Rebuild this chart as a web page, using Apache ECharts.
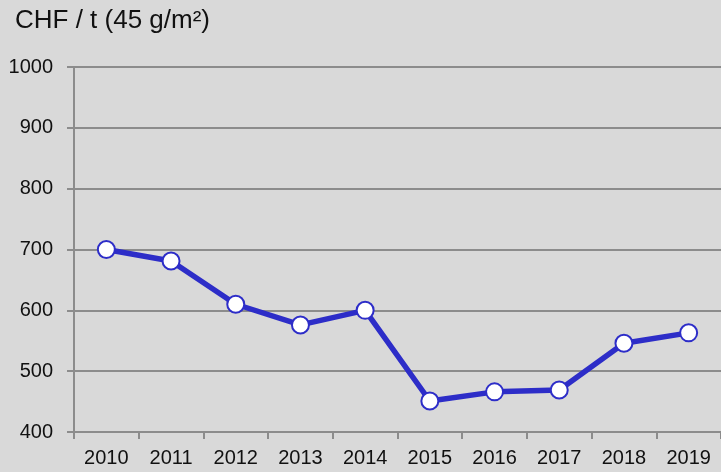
<!DOCTYPE html>
<html>
<head>
<meta charset="utf-8">
<script src="https://cdn.jsdelivr.net/npm/echarts@6/dist/echarts.min.js"></script>
<style>html,body{margin:0;padding:0;background:#d9d9d9;}#c{width:721px;height:472px;}</style>
</head>
<body>
<div id="c"></div>
<script>
const titleText = 'CHF / t (45 g/m²)';
const years = ['2010','2011','2012','2013','2014','2015','2016','2017','2018','2019'];
const prices = [700, 681, 610, 576, 600, 451, 466, 469, 546, 563];
const yMin = 400, yMax = 1000, yStep = 100;

const chart = echarts.init(document.getElementById('c'));
const gray = '#8c8c8c';
const fontFam = '"Liberation Sans", Arial, sans-serif';
chart.setOption({
  backgroundColor: '#d9d9d9',
  animation: false,
  title: {
    text: titleText, left: 10, top: 3,
    textStyle: { fontFamily: fontFam, fontSize: 26, fontWeight: 'normal', color: '#111' }
  },
  grid: { left: 74, right: -3, top: 67, bottom: 40, containLabel: false },
  xAxis: {
    type: 'category', data: years, boundaryGap: true,
    axisLine: { show: true, lineStyle: { color: gray, width: 2 } },
    axisTick: { show: true, length: 7, lineStyle: { color: gray, width: 2 } },
    axisLabel: { margin: 16, fontFamily: fontFam, fontSize: 20, color: '#111' },
    splitLine: { show: false }
  },
  yAxis: {
    type: 'value', min: yMin, max: yMax, interval: yStep,
    axisLine: { show: true, lineStyle: { color: gray, width: 2 } },
    axisTick: { show: true, length: 7, lineStyle: { color: gray, width: 2 } },
    axisLabel: { margin: 21, fontFamily: fontFam, fontSize: 20, color: '#111', formatter: v => String(v) },
    splitLine: { show: true, lineStyle: { color: gray, width: 2 } }
  },
  series: [{
    type: 'line', data: prices,
    symbol: 'circle', symbolSize: 17,
    lineStyle: { color: '#2d2dc8', width: 5.5 },
    itemStyle: { color: '#ffffff', borderColor: '#2d2dc8', borderWidth: 2 }
  }]
});
</script>
</body>
</html>
